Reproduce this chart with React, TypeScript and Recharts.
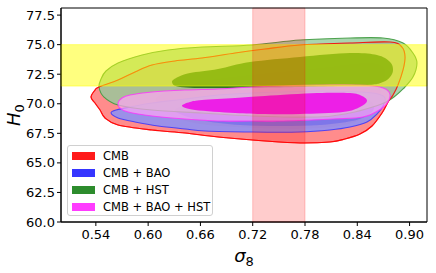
import React from 'react';
import { ScatterChart, Scatter, XAxis, YAxis, ReferenceArea } from 'recharts';

const s8Ticks = [0.54, 0.6, 0.66, 0.72, 0.78, 0.84, 0.9];
const h0Ticks = [60, 62.5, 65, 67.5, 70, 72.5, 75, 77.5];
const s8Band = [0.72, 0.78];
const h0Band = [71.5, 75.0];

const seriesNames = ['CMB', 'CMB + BAO', 'CMB + HST', 'CMB + BAO + HST'];
const legendColors = ['#ff1a1a', '#3535ff', '#2d8c2d', '#ff3cff'];

// contour outlines as [sigma8, H0]
const cmbOuter = [
  [0.5344, 70.57], [0.539, 71.16], [0.5436, 71.42], [0.5654, 72.01], [0.5849, 72.69],
  [0.6044, 73.28], [0.6308, 73.62], [0.6618, 73.87], [0.6997, 74.29], [0.7341, 74.63],
  [0.7743, 74.97], [0.8317, 75.14], [0.8776, 75.22], [0.8913, 74.8], [0.8948, 73.96],
  [0.8925, 72.86], [0.8867, 71.59], [0.881, 70.74], [0.8753, 70.15], [0.8684, 69.22],
  [0.8569, 68.12], [0.8431, 67.44], [0.8259, 67.02], [0.8087, 66.77], [0.7743, 66.68],
  [0.7341, 66.85], [0.6802, 67.19], [0.6423, 67.53], [0.6044, 67.78], [0.5654, 68.2],
  [0.5505, 68.8], [0.5448, 69.47], [0.539, 70.06],
];
const cmbInner = [
  [0.6136, 70.74], [0.6595, 71.84], [0.7169, 72.43], [0.7972, 73.03], [0.8489, 73.45],
  [0.8684, 73.19], [0.8718, 72.43], [0.8661, 70.74], [0.8569, 69.47], [0.8374, 68.46],
  [0.7972, 67.95], [0.7284, 67.95], [0.6595, 68.29], [0.6251, 69.05], [0.6113, 69.9],
];
const baoOuter = [
  [0.5574, 69.22], [0.5631, 69.47], [0.5849, 69.81], [0.6044, 70.06], [0.6423, 70.4],
  [0.6802, 70.74], [0.7192, 70.91], [0.7938, 71.08], [0.8431, 71.0], [0.8638, 70.83],
  [0.8718, 70.49], [0.8695, 69.81], [0.8626, 69.13], [0.8512, 68.46], [0.8317, 68.03],
  [0.8087, 67.78], [0.7743, 67.61], [0.7192, 67.61], [0.6653, 67.7], [0.6423, 67.87],
  [0.6113, 68.12], [0.5849, 68.46], [0.5654, 68.8],
];
const baoInner = [
  [0.6308, 69.47], [0.648, 69.98], [0.6825, 70.32], [0.7192, 70.49], [0.7938, 70.66],
  [0.8374, 70.57], [0.8546, 70.23], [0.8592, 69.64], [0.8523, 69.05], [0.8339, 68.54],
  [0.7972, 68.2], [0.7513, 68.12], [0.7054, 68.2], [0.6653, 68.54], [0.6423, 68.97],
];
const hstOuter = [
  [0.5436, 71.42], [0.5459, 72.09], [0.5516, 72.77], [0.5654, 73.45], [0.593, 74.12],
  [0.6228, 74.55], [0.6618, 74.8], [0.7192, 74.97], [0.7743, 75.39], [0.8317, 75.56],
  [0.8695, 75.56], [0.8925, 75.14], [0.9039, 74.29], [0.9085, 73.45], [0.9039, 72.26],
  [0.8925, 71.25], [0.8821, 70.57], [0.873, 70.15], [0.8615, 69.81], [0.8317, 69.22],
  [0.7938, 68.88], [0.7192, 68.97], [0.6618, 69.22], [0.6044, 69.47], [0.5654, 69.9],
  [0.5493, 70.57],
];
const hstInner = [
  [0.6274, 71.84], [0.6343, 72.26], [0.648, 72.6], [0.6802, 72.94], [0.7169, 73.53],
  [0.7743, 73.96], [0.8317, 74.29], [0.8626, 74.12], [0.8776, 73.53], [0.881, 72.86],
  [0.8776, 72.26], [0.8695, 71.84], [0.8512, 71.59], [0.7743, 71.42], [0.6802, 71.33],
  [0.6366, 71.42],
];
const allOuter = [
  [0.5654, 70.06], [0.57, 70.49], [0.5792, 70.74], [0.6044, 71.0], [0.6423, 71.16],
  [0.6802, 71.25], [0.7192, 71.42], [0.7938, 71.59], [0.8431, 71.59], [0.8661, 71.42],
  [0.8764, 71.0], [0.8764, 70.32], [0.8672, 69.56], [0.8466, 68.88], [0.8121, 68.71],
  [0.7548, 68.54], [0.7192, 68.54], [0.6802, 68.54], [0.6423, 68.71], [0.6044, 68.97],
  [0.5769, 69.3], [0.5677, 69.64],
];
const allInner = [
  [0.6389, 69.81], [0.648, 70.15], [0.6618, 70.32], [0.6997, 70.49], [0.7341, 70.66],
  [0.7938, 70.91], [0.8317, 70.91], [0.8454, 70.66], [0.8512, 70.23], [0.8431, 69.73],
  [0.8236, 69.3], [0.7743, 69.13], [0.7341, 69.13], [0.6997, 69.22], [0.6538, 69.47],
];

const toPoints = (arr: number[][]) => arr.map(([x, y]) => ({ x, y }));

function smoothPath(pts: { x: number; y: number }[]) {
  const n = pts.length;
  let d = `M${pts[0].x},${pts[0].y}`;
  for (let i = 0; i < n; i++) {
    const p0 = pts[(i - 1 + n) % n];
    const p1 = pts[i];
    const p2 = pts[(i + 1) % n];
    const p3 = pts[(i + 2) % n];
    const c1x = p1.x + (p2.x - p0.x) / 6;
    const c1y = p1.y + (p2.y - p0.y) / 6;
    const c2x = p2.x - (p3.x - p1.x) / 6;
    const c2y = p2.y - (p3.y - p1.y) / 6;
    d += `C${c1x},${c1y} ${c2x},${c2y} ${p2.x},${p2.y}`;
  }
  return d + 'Z';
}

// drawn by Scatter's `line`, gets the scaled points from recharts
function Contour(props: any) {
  const { points, tint, alpha, edge, edgeAlpha } = props;
  if (!points || points.length < 3) return null;
  return (
    <path
      d={smoothPath(points)}
      fill={tint || 'none'}
      fillOpacity={alpha ?? 1}
      stroke={edge || 'none'}
      strokeOpacity={edgeAlpha ?? 1}
      strokeWidth={1.1}
    />
  );
}

const NoDot = () => null;

const layers = [
  { pts: cmbOuter, tint: '#ff0000', alpha: 0.45, edge: '#ff0000', edgeAlpha: 0.7 },
  { pts: cmbInner, tint: '#ff0000', alpha: 0.15 },
  { pts: baoOuter, tint: '#8291ff', alpha: 0.8, edge: '#3030ff', edgeAlpha: 0.8 },
  { pts: baoInner, tint: '#5a5af0', alpha: 0.45 },
  { pts: hstOuter, tint: '#93ca9b', alpha: 0.8, edge: '#3f9a3f', edgeAlpha: 0.9 },
  { pts: hstInner, tint: '#0e670c', alpha: 0.8 },
  { pts: cmbOuter, edge: '#ff0000', edgeAlpha: 0.85 },
  { pts: allOuter, tint: '#ffa5f5', alpha: 0.7, edge: '#ff30ff', edgeAlpha: 0.8 },
  { pts: allInner, tint: '#ee10e8', alpha: 0.9 },
];

const font = 'DejaVu Sans, sans-serif';

function XLabel({ viewBox }: any) {
  const cx = viewBox.x + viewBox.width / 2;
  return (
    <text x={cx} y={viewBox.y + 40} textAnchor="middle" fontFamily={font} fontSize={18} fill="#000">
      <tspan fontStyle="italic">σ</tspan>
      <tspan fontSize={13} dy={4}>8</tspan>
    </text>
  );
}

function YLabel({ viewBox }: any) {
  const x = viewBox.x + 20;
  const y = viewBox.y + viewBox.height / 2;
  return (
    <text x={x} y={y} transform={`rotate(-90 ${x} ${y})`} textAnchor="middle" fontFamily={font} fontSize={18} fill="#000">
      <tspan fontStyle="italic">H</tspan>
      <tspan fontSize={13} dy={4}>0</tspan>
    </text>
  );
}

export default function App() {
  const tickStyle = { fontFamily: font, fontSize: 13, fill: '#000' };
  return (
    <div style={{ position: 'absolute', left: 0, top: 0, width: 436, height: 273, background: '#fff' }}>
      <ScatterChart width={436} height={273} margin={{ top: 8, right: 9, bottom: 0, left: 0 }}>
        <XAxis
          type="number"
          dataKey="x"
          domain={[0.5, 0.92]}
          ticks={s8Ticks}
          tickFormatter={(v: number) => v.toFixed(2)}
          allowDataOverflow
          height={51}
          tickSize={4}
          tickMargin={4}
          tick={tickStyle}
          stroke="#000"
          label={<XLabel />}
        />
        <YAxis
          type="number"
          dataKey="y"
          domain={[60, 78.1]}
          ticks={h0Ticks}
          tickFormatter={(v: number) => v.toFixed(1)}
          allowDataOverflow
          width={61}
          tickSize={4}
          tickMargin={2}
          tick={tickStyle}
          stroke="#000"
          label={<YLabel />}
        />
        {layers.map((l, i) => (
          <Scatter
            key={i}
            data={toPoints(l.pts)}
            shape={NoDot}
            isAnimationActive={false}
            line={<Contour tint={l.tint} alpha={l.alpha} edge={l.edge} edgeAlpha={l.edgeAlpha} />}
          />
        ))}
        <ReferenceArea
          y1={h0Band[0]}
          y2={h0Band[1]}
          fill="#ffff00"
          fillOpacity={0.5}
          stroke="#ffff00"
          strokeOpacity={0.5}
          zIndex={650}
        />
        <ReferenceArea
          x1={s8Band[0]}
          x2={s8Band[1]}
          fill="#ff0000"
          fillOpacity={0.2}
          stroke="#ff0000"
          strokeOpacity={0.2}
          zIndex={660}
        />
        <ReferenceArea x1={0.5} x2={0.92} y1={60} y2={78.1} fill="none" stroke="#000" strokeWidth={1} zIndex={700} />
      </ScatterChart>
      <div
        style={{
          position: 'absolute',
          left: 67,
          top: 145,
          width: 146,
          height: 71,
          boxSizing: 'border-box',
          border: '1px solid #d0d0d0',
          borderRadius: 3,
          background: 'rgba(255,255,255,0.8)',
          fontFamily: font,
          fontSize: 11.5,
          color: '#000',
        }}
      >
        {seriesNames.map((name, i) => (
          <div key={name} style={{ position: 'absolute', left: 4, top: 1 + i * 17, height: 17, display: 'flex', alignItems: 'center', whiteSpace: 'nowrap' }}>
            <span style={{ display: 'inline-block', width: 23, height: 8, background: legendColors[i], marginRight: 8 }} />
            <span>{name}</span>
          </div>
        ))}
      </div>
    </div>
  );
}
